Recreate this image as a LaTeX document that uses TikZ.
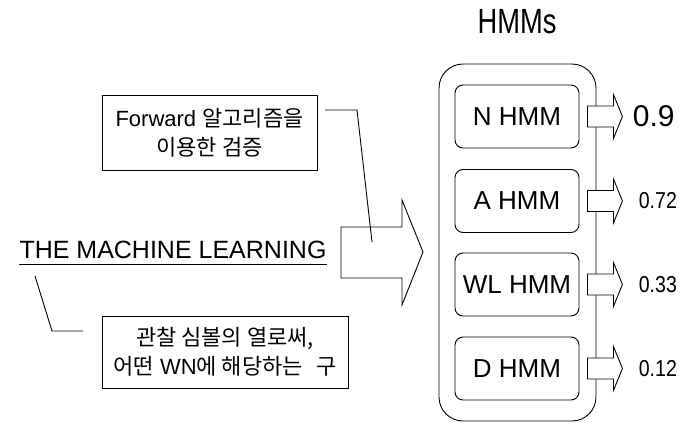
\documentclass[tikz,border=0pt]{standalone}
\usepackage{fontspec}
\setmainfont{Liberation Sans}
\newfontfamily\kr{Noto Sans CJK KR}
\usetikzlibrary{positioning}

\begin{document}
\begin{tikzpicture}[x=1pt,y=-1pt,line width=0.9pt,
  hmmbox/.style={draw,rounded corners=8pt,minimum width=124pt,minimum height=63pt,font=\fontsize{26}{26}\selectfont},
  notebox/.style={draw,align=center,inner sep=0pt,font=\fontsize{22}{29}\selectfont},
  outarrow/.style={draw,fill=white,line join=miter},
  score/.style={anchor=west,inner sep=0pt,font=\fontsize{23}{23}\selectfont,xscale=0.85,transform shape}]
\useasboundingbox (0,0) rectangle (694,423);
\node[font=\fontsize{35}{35}\selectfont,xscale=0.78,transform shape] (title) at (517,22) {HMMs};
\node[draw,rounded corners=24pt,minimum width=157pt,minimum height=357pt] (hmms) at (517.5,242.5) {};
\foreach \name/\lbl/\y in {n/N HMM/116.5,a/A HMM/201,wl/WL HMM/284.5,d/D HMM/368.5} {
  \node[hmmbox] (\name) at (517,\y) {\lbl};
  \draw[outarrow] ([xshift=8pt]\name.east) ++(0,-10.5) -- ++(26,0) -- ++(0,-11.5) -- ++(9,22) -- ++(-9,22) -- ++(0,-11.5) -- ++(-26,0) -- cycle;
}
\node[anchor=west,inner sep=0pt,font=\fontsize{30}{30}\selectfont] (nscore) at ([xshift=53pt]n.east) {0.9};
\foreach \name/\val in {a/0.72,wl/0.33,d/0.12}
  \node[score] (\name score) at ([xshift=59pt]\name.east) {\val};
% big input arrow
\draw[line join=miter] (341,227) -- (402,227) -- (402,200) -- (423,252) -- (402,305) -- (402,278) -- (341,278) -- cycle;
\node[inner sep=0pt,font=\fontsize{25}{25}\selectfont,anchor=base] (ml) at (173,258) {THE MACHINE LEARNING};
\draw ([yshift=-6pt]ml.base west) -- ([yshift=-6pt]ml.base east);
\node[notebox,minimum width=215pt,minimum height=75pt] (fwd) at (209.5,132.5) {Forward {\kr 알고리즘을}\\{\kr 이용한 검증}};
\node[notebox,minimum width=246pt,minimum height=72pt] (obs) at (225,352) {{\kr 관찰 심볼의 열로써,}\\{\kr 어떤} WN{\kr 에 해당하는}\hspace{0.6em}{\kr 구}};
\coordinate (fwdtail) at (325,110);
\coordinate (fwdbend) at (357,110);
\coordinate (fwdend) at (372,242);
\draw (fwdtail) -- (fwdbend) -- (fwdend);
\coordinate (mltail) at (35,276);
\coordinate (mlbend) at (52,331);
\coordinate (mlend) at (83,331);
\draw (mltail) -- (mlbend) -- (mlend);
\end{tikzpicture}
\end{document}
